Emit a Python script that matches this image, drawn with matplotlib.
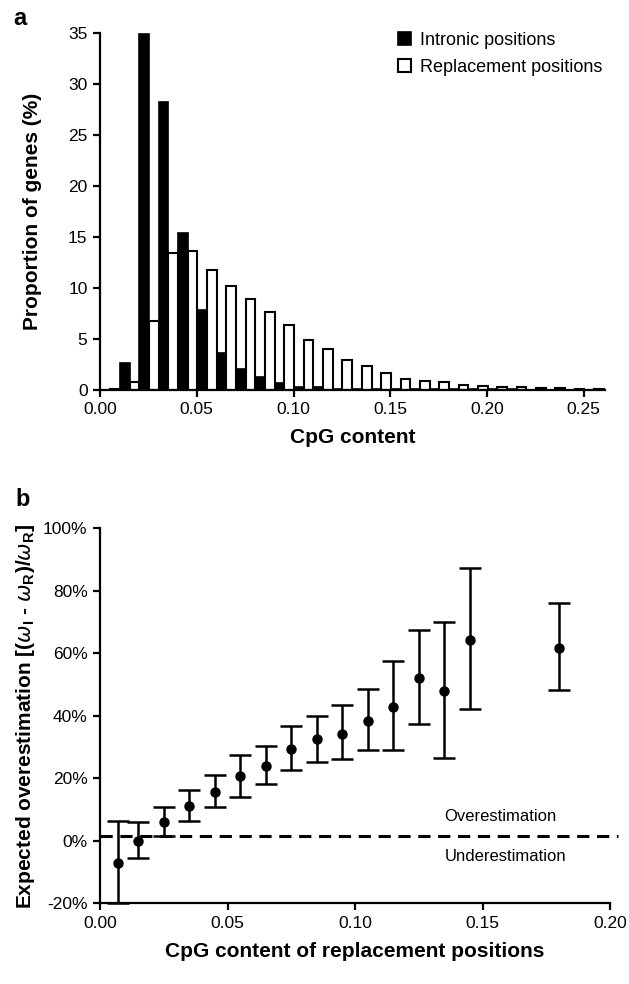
import numpy as np
import matplotlib
matplotlib.use('Agg')
import matplotlib.pyplot as plt

plt.rcParams['font.family'] = ['Liberation Sans', 'DejaVu Sans']

# panel a: histogram of CpG content (bin start, 0.01 wide)
bins = np.round(np.arange(0.0, 0.26, 0.01), 2)
intronic = [0.0, 2.65, 34.9, 28.3, 15.4, 7.8, 3.6, 2.05, 1.24, 0.65, 0.26, 0.22,
            0.1, 0.08, 0.06, 0.05, 0.04, 0.03, 0.03, 0.02, 0.02, 0.02, 0.01, 0.01, 0.01, 0.01]
replacement = [0.1, 0.8, 6.7, 13.4, 13.6, 11.8, 10.2, 8.9, 7.6, 6.4, 4.9, 3.96,
               2.95, 2.29, 1.67, 1.08, 0.82, 0.75, 0.42, 0.33, 0.26, 0.23, 0.16, 0.13, 0.1, 0.05]

# panel b: expected overestimation vs CpG content
cpg_b = [0.007, 0.015, 0.025, 0.035, 0.045, 0.055, 0.065, 0.075, 0.085, 0.095,
         0.105, 0.115, 0.125, 0.135, 0.145, 0.18]
over = [-7.2, 0.1, 5.9, 11.2, 15.5, 20.7, 23.8, 29.5, 32.5, 34.3,
        38.4, 42.9, 52.1, 47.8, 64.4, 61.8]
upper = [6.5, 5.9, 10.7, 16.4, 21.0, 27.6, 30.3, 36.8, 40.0, 43.4,
         48.5, 57.7, 67.6, 70.0, 87.3, 76.1]
lower = [-20.0, -5.4, 1.6, 6.5, 10.8, 13.9, 18.2, 22.6, 25.3, 26.2,
         29.0, 29.0, 37.3, 26.4, 42.1, 48.3]
threshold = 1.5

fig = plt.figure(figsize=(6.29, 9.84), dpi=100)

def style(ax):
    for s in ['top', 'right']:
        ax.spines[s].set_visible(False)
    for s in ['left', 'bottom']:
        ax.spines[s].set_linewidth(1.6)
    ax.tick_params(direction='out', length=5, width=1.6, labelsize=12.5, pad=4)

# ---- a ----
ax1 = fig.add_axes([0.159, 0.604, 0.803, 0.362])
w = 0.005
ax1.bar(bins + 0.0003, intronic, width=w, align='edge', color='black',
        edgecolor='black', linewidth=1.2, label='Intronic positions')
ax1.bar(bins + 0.0003 + w, replacement, width=w, align='edge', color='white',
        edgecolor='black', linewidth=1.5, label='Replacement positions')
ax1.set_xlim(0, 0.261)
ax1.set_ylim(0, 35)
ax1.set_xticks(np.arange(0, 0.26, 0.05))
ax1.set_xticklabels(['0.00', '0.05', '0.10', '0.15', '0.20', '0.25'])
ax1.set_yticks(range(0, 36, 5))
style(ax1)
ax1.set_xlabel('CpG content', fontsize=15, fontweight='bold', labelpad=8)
ax1.set_ylabel('Proportion of genes (%)', fontsize=15, fontweight='bold', labelpad=19)
ax1.legend(loc='upper left', bbox_to_anchor=(0.572, 1.03), frameon=False,
           fontsize=13, handlelength=0.7, handleheight=0.75, handletextpad=0.5,
           labelspacing=0.55, borderpad=0)

# ---- b ----
ax2 = fig.add_axes([0.159, 0.082, 0.811, 0.381])
yerr = [np.array(over) - np.array(lower), np.array(upper) - np.array(over)]
ax2.errorbar(cpg_b, over, yerr=yerr, fmt='o', color='black', markersize=6.5,
             ecolor='black', elinewidth=1.8, capsize=8, capthick=1.8, clip_on=False)
ax2.axhline(threshold, xmin=0, xmax=1.016, color='black', linestyle=(0, (4, 2.5)),
            linewidth=2.2, clip_on=False)
ax2.text(0.135, threshold + 4, 'Overestimation', fontsize=12, va='bottom')
ax2.text(0.135, threshold - 4, 'Underestimation', fontsize=12, va='top')
ax2.set_xlim(0, 0.20)
ax2.set_ylim(-20, 100)
ax2.set_xticks([0, 0.05, 0.10, 0.15, 0.20])
ax2.set_xticklabels(['0.00', '0.05', '0.10', '0.15', '0.20'])
ax2.set_yticks(range(-20, 101, 20))
ax2.set_yticklabels([f'{v}%' for v in range(-20, 101, 20)])
style(ax2)
ax2.set_xlabel('CpG content of replacement positions', fontsize=15, fontweight='bold', labelpad=8)
ax2.set_ylabel(r'Expected overestimation [($\omega_\mathregular{I}$ - $\omega_\mathregular{R}$)/$\omega_\mathregular{R}$]',
               fontsize=15, fontweight='bold', labelpad=4)

fig.text(0.021, 1 - 25 / 984, 'a', fontsize=17, fontweight='bold')
fig.text(0.024, 1 - 506 / 984, 'b', fontsize=17, fontweight='bold')

fig.savefig('out.png', dpi=100)
